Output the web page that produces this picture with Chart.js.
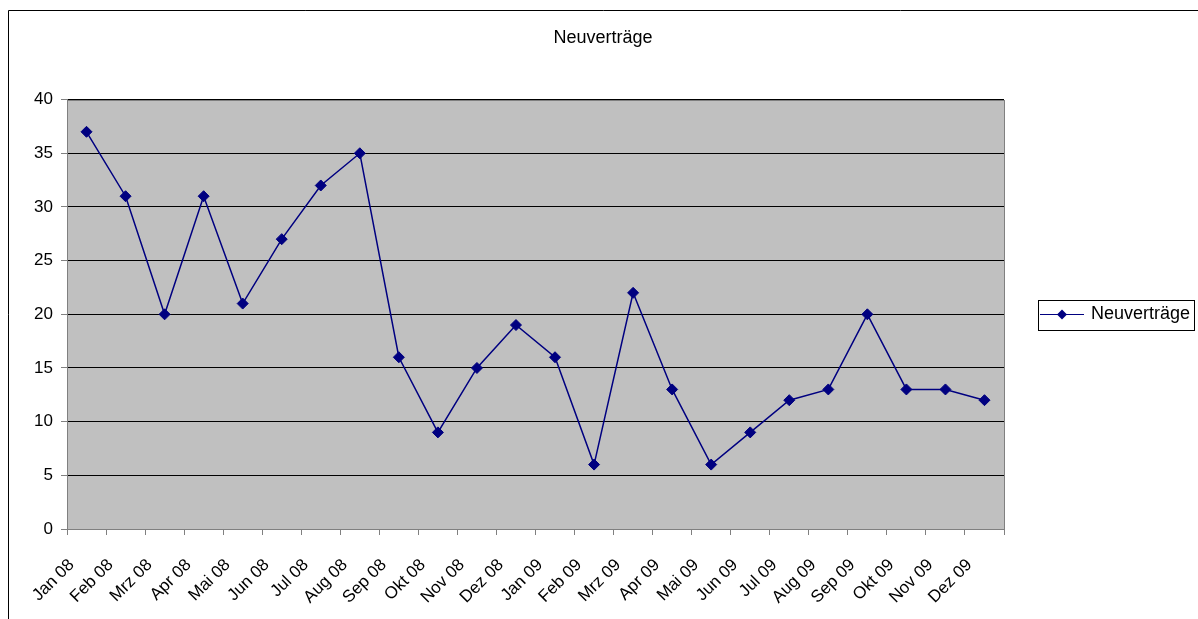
<!DOCTYPE html>
<html>
<head>
<meta charset="utf-8">
<title>Neuverträge</title>
<script src="https://cdn.jsdelivr.net/npm/chart.js@4/dist/chart.umd.min.js"></script>
<style>
  body { margin: 0; background: #fff; }
  canvas { display: block; }
</style>
</head>
<body>
<canvas id="chart" width="1198" height="619"></canvas>
<script>
const months = ['Jan 08', 'Feb 08', 'Mrz 08', 'Apr 08', 'Mai 08', 'Jun 08', 'Jul 08', 'Aug 08',
  'Sep 08', 'Okt 08', 'Nov 08', 'Dez 08', 'Jan 09', 'Feb 09', 'Mrz 09', 'Apr 09',
  'Mai 09', 'Jun 09', 'Jul 09', 'Aug 09', 'Sep 09', 'Okt 09', 'Nov 09', 'Dez 09'];
const neuvertraege = [37, 31, 20, 31, 21, 27, 32, 35, 16, 9, 15, 19,
  16, 6, 22, 13, 6, 9, 12, 13, 20, 13, 13, 12];
const yTicks = [0, 5, 10, 15, 20, 25, 30, 35, 40];

const navy = '#000080';
const axisGray = '#808080';

Chart.defaults.font.family = '"Liberation Sans", Arial, sans-serif';
Chart.defaults.color = '#000';

// legend marker: short line with a diamond, like the excel legend
const legendMark = document.createElement('canvas');
legendMark.width = 44;
legendMark.height = 11;
const lm = legendMark.getContext('2d');
lm.strokeStyle = navy;
lm.lineWidth = 1;
lm.beginPath();
lm.moveTo(0, 5.5);
lm.lineTo(44, 5.5);
lm.stroke();
lm.fillStyle = navy;
lm.beginPath();
lm.moveTo(22, 0.5);
lm.lineTo(27, 5.5);
lm.lineTo(22, 10.5);
lm.lineTo(17, 5.5);
lm.closePath();
lm.fill();

const excelFrame = {
  id: 'excelFrame',
  beforeDraw(chart) {
    const { ctx, chartArea: a } = chart;
    ctx.save();
    // outer chart border (only left and top are visible)
    ctx.strokeStyle = '#000';
    ctx.lineWidth = 1;
    ctx.beginPath();
    ctx.moveTo(8.5, chart.height);
    ctx.lineTo(8.5, 10.5);
    ctx.lineTo(chart.width, 10.5);
    ctx.stroke();
    // gray plot area
    ctx.fillStyle = '#c0c0c0';
    ctx.fillRect(a.left, a.top, a.right - a.left, a.bottom - a.top);
    ctx.restore();
  },
  beforeDatasetsDraw(chart) {
    const { ctx, chartArea: a } = chart;
    ctx.save();
    ctx.strokeStyle = axisGray;
    ctx.lineWidth = 1;
    ctx.strokeRect(Math.round(a.left) + 0.5, Math.round(a.top) + 0.5,
      Math.round(a.right - a.left), Math.round(a.bottom - a.top));
    ctx.restore();
  },
  afterDraw(chart) {
    const hb = chart.legend && chart.legend.legendHitBoxes[0];
    if (!hb) return;
    const ctx = chart.ctx;
    const cy = hb.top + hb.height / 2;
    ctx.save();
    ctx.strokeStyle = '#000';
    ctx.lineWidth = 1;
    ctx.strokeRect(Math.round(hb.left - 4) + 0.5, Math.round(cy - 15) + 0.5,
      Math.round(hb.width + 8), 30);
    ctx.restore();
  }
};

new Chart(document.getElementById('chart'), {
  type: 'line',
  data: {
    labels: months,
    datasets: [{
      label: 'Neuverträge',
      data: neuvertraege,
      borderColor: navy,
      backgroundColor: navy,
      borderWidth: 1.5,
      pointStyle: 'rectRot',
      pointRadius: 5.5,
      pointBorderWidth: 1,
      pointBackgroundColor: navy,
      tension: 0,
      fill: false
    }]
  },
  options: {
    responsive: false,
    animation: false,
    devicePixelRatio: 1,
    layout: { padding: { top: 10, left: 8, right: 0, bottom: 0 } },
    plugins: {
      title: {
        display: true,
        text: 'Neuverträge',
        color: '#000',
        font: { size: 18, weight: 'normal' },
        padding: { top: 17, bottom: 51 }
      },
      legend: {
        position: 'right',
        maxWidth: 194,
        labels: {
          usePointStyle: true,
          pointStyle: legendMark,
          pointStyleWidth: 40,
          padding: 38,
          color: '#000',
          font: { size: 18 }
        }
      },
      tooltip: { enabled: false }
    },
    scales: {
      x: {
        offset: true,
        afterFit: s => { s.height = 90; },
        grid: {
          offset: true,
          drawOnChartArea: false,
          color: axisGray,
          tickLength: 6
        },
        border: { color: axisGray },
        ticks: {
          autoSkip: false,
          minRotation: 45,
          maxRotation: 45,
          labelOffset: -15,
          padding: 20,
          font: { size: 17 }
        }
      },
      y: {
        min: yTicks[0],
        max: yTicks[yTicks.length - 1],
        afterBuildTicks: s => { s.ticks = yTicks.map(v => ({ value: v })); },
        afterFit: s => { s.width = 59; },
        grid: {
          color: '#000',
          tickColor: axisGray,
          tickLength: 6
        },
        border: { color: axisGray },
        ticks: {
          padding: 8,
          font: { size: 17 }
        }
      }
    }
  },
  plugins: [excelFrame]
});
</script>
</body>
</html>
